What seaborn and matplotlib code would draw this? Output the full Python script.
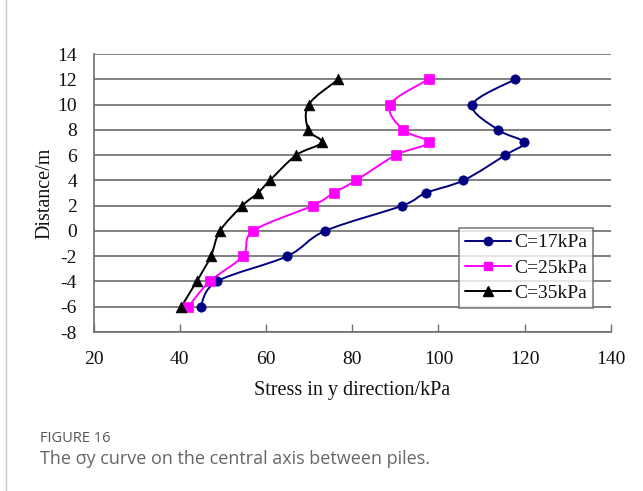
import numpy as np
import pandas as pd
import matplotlib
matplotlib.use("Agg")
import matplotlib.pyplot as plt
from matplotlib.path import Path
from matplotlib.patches import PathPatch
from matplotlib.lines import Line2D
import seaborn as sns

# Depth positions along the central axis (m)
distance = [12, 10, 8, 7, 6, 4, 3, 2, 0, -2, -4, -6]

# Stress in y direction (kPa) for each cohesion value
stress_c17 = [117.8, 107.9, 113.8, 119.8, 115.5, 105.8, 97.0, 91.6, 73.7, 64.9, 48.6, 44.8]
stress_c25 = [97.7, 88.8, 91.8, 97.7, 90.1, 80.9, 75.7, 70.8, 57.0, 54.6, 46.9, 42.0]
stress_c35 = [76.8, 69.9, 69.8, 72.9, 67.0, 60.9, 58.1, 54.5, 49.3, 47.2, 43.9, 40.3]

series_names = ["C=17kPa", "C=25kPa", "C=35kPa"]
x_ticks = [20, 40, 60, 80, 100, 120, 140]
y_ticks = [-8, -6, -4, -2, 0, 2, 4, 6, 8, 10, 12, 14]

colors = {"C=17kPa": "#000080", "C=25kPa": "#FF00FF", "C=35kPa": "#000000"}
markers = {"C=17kPa": "o", "C=25kPa": "s", "C=35kPa": "^"}
msizes = {"C=17kPa": 45, "C=25kPa": 50, "C=35kPa": 60}

df = pd.concat([
    pd.DataFrame({"stress": s, "distance": distance, "case": n})
    for s, n in zip([stress_c17, stress_c25, stress_c35], series_names)
], ignore_index=True)

sns.set_theme(style="white")
plt.rcParams["font.family"] = ["Liberation Serif", "DejaVu Serif"]

fig = plt.figure(figsize=(6.43, 4.91), dpi=100)
ax = fig.add_axes([0.1456, 0.3238, 0.950 - 0.1456, 0.890 - 0.3238])


def smooth_path(xs, ys):
    """Cubic Bezier path passing through every point (Catmull-Rom style)."""
    pts = np.column_stack([xs, ys]).astype(float)
    n = len(pts)
    verts = [pts[0]]
    codes = [Path.MOVETO]
    for i in range(n - 1):
        p0 = pts[i - 1] if i > 0 else pts[i]
        p1 = pts[i]
        p2 = pts[i + 1]
        p3 = pts[i + 2] if i + 2 < n else pts[i + 1]
        c1 = p1 + (p2 - p0) / 6.0
        c2 = p2 - (p3 - p1) / 6.0
        verts += [c1, c2, p2]
        codes += [Path.CURVE4] * 3
    return Path(verts, codes)


for name in series_names:
    sub = df[df["case"] == name]
    patch = PathPatch(smooth_path(sub["stress"].values, sub["distance"].values),
                      facecolor="none", edgecolor=colors[name], lw=1.4, zorder=3)
    ax.add_patch(patch)

for name in series_names:
    sub = df[df["case"] == name]
    sns.scatterplot(data=sub, x="stress", y="distance", marker=markers[name],
                    color=colors[name], s=msizes[name], edgecolor=colors[name],
                    linewidth=0.5, ax=ax, zorder=4, legend=False)

ax.set_xlim(20, 140)
ax.set_ylim(-8, 14)
ax.set_xticks(x_ticks)
ax.set_yticks(y_ticks)
ax.set_xticklabels([str(t) for t in x_ticks], fontsize=14)
ax.set_yticklabels([str(t) for t in y_ticks], fontsize=14)

ax.yaxis.grid(True, color="#808080", lw=1.4)
ax.xaxis.grid(False)
for side in ["top", "right"]:
    ax.spines[side].set_visible(False)
for side in ["left", "bottom"]:
    ax.spines[side].set_color("#707070")
    ax.spines[side].set_linewidth(1.2)

ax.tick_params(axis="x", direction="in", length=6, width=1.0, color="#707070",
               pad=14, labelcolor="#111111", bottom=True)
ax.tick_params(axis="y", direction="in", length=0, pad=12, labelcolor="#111111")

ax.set_xlabel("Stress in y direction/kPa", fontsize=14.5, labelpad=9, color="#111111")
ax.set_ylabel("Distance/m", fontsize=14.5, labelpad=2, color="#111111")

handles = [Line2D([0], [0], color=colors[n], marker=markers[n], lw=1.4,
                  markersize=6 if markers[n] != "^" else 7)
           for n in series_names]
leg = ax.legend(handles, series_names, loc="lower left",
                bbox_to_anchor=(0.706, 0.086, 0.259, 0.313), mode="expand",
                fontsize=14, frameon=True, fancybox=False, borderpad=0.3,
                handlelength=2.4, handletextpad=0.15, labelspacing=0.4,
                borderaxespad=0.0)
leg.get_frame().set_edgecolor("#606060")
leg.get_frame().set_linewidth(1.2)
for t in leg.get_texts():
    t.set_color("#111111")

# Thin frame line on the left side of the figure
fig.add_artist(Line2D([0.0095, 0.0095], [0, 1], transform=fig.transFigure,
                      color="#c8c8c8", lw=1.0))

fig.text(0.062, 0.100, "FIGURE 16", fontsize=10.5, color="#555555",
         family=["Open Sans", "DejaVu Sans"])
fig.text(0.062, 0.055, "The \u03c3y curve on the central axis between piles.",
         fontsize=13, color="#666666", family=["Open Sans", "DejaVu Sans"])

fig.savefig("out.png", dpi=100)
